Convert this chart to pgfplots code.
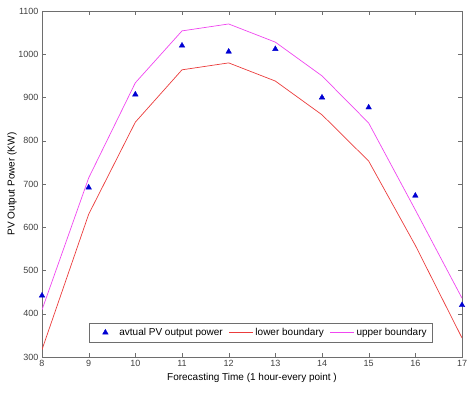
\documentclass[border=0pt]{standalone}
\usepackage{pgfplots}
\pgfplotsset{compat=1.18}
\usepackage{fontspec}
\setmainfont{Liberation Sans}
\definecolor{axgray}{RGB}{110,110,110}
\definecolor{lowred}{RGB}{235,60,60}
\definecolor{upmag}{RGB}{240,70,240}
\definecolor{ptblue}{RGB}{0,0,210}
\pgfplotsset{
  lineleg/.style={legend image code/.code={\draw[##1] (0pt,0pt) -- (24pt,0pt);}},
  markleg/.style={legend image code/.code={\path[draw=none,fill=none] (0pt,-1pt) rectangle (24pt,1pt); \draw[##1] plot coordinates {(12pt,0pt)};}},
}
\begin{document}
\begin{tikzpicture}
\begin{axis}[
  name=ax,
  scale only axis,
  width=420pt, height=346pt,
  xmin=8, xmax=17, ymin=300, ymax=1100,
  xtick={8,...,17}, ytick={300,400,...,1100},
  tick align=inside,
  axis line style={axgray},
  tick style={axgray},
  major tick length=4pt,
  tick label style={font=\fontsize{9}{10}\selectfont, text=black!75},
  /pgf/number format/assume math mode=true,
  /pgf/number format/1000 sep={},
  xlabel={Forecasting Time (1 hour-every point )},
  ylabel={PV Output Power (KW)},
  label style={font=\fontsize{10}{12}\selectfont, text=black!75},
  every axis x label/.style={at={(axis description cs:0.5,0)}, anchor=center, yshift=-21pt},
  every axis y label/.style={at={(axis description cs:0,0.5)}, rotate=90, anchor=center, yshift=30pt},
  legend columns=3,
  legend style={at={(0.5,0.043)}, anchor=south, xshift=9pt, draw=axgray, font=\fontsize{10}{12}\selectfont,
    inner ysep=3pt, inner xsep=4pt,
    /tikz/every even column/.append style={column sep=4pt}},
  legend cell align=left,
]
\addplot[only marks, mark=triangle*, mark size=3.2pt, color=ptblue, markleg] coordinates {
(8,442) (9,692) (10,907) (11,1020) (12,1006) (13,1012) (14,900) (15,877) (16,673) (17,420)};
\addlegendentry{avtual PV output power}
\addplot[lowred, line width=0.7pt, lineleg] coordinates {
(8,317) (9,630) (10,843) (11,964) (12,980) (13,938) (14,860) (15,753) (16,558) (17,344)};
\addlegendentry{lower boundary}
\addplot[upmag, line width=0.7pt, lineleg] coordinates {
(8,409) (9,714) (10,934) (11,1054) (12,1070) (13,1028) (14,950) (15,841) (16,640) (17,436)};
\addlegendentry{upper boundary}
\end{axis}
\pgfresetboundingbox
\path ([shift={(-42pt,-35pt)}]ax.south west) rectangle ([shift={(12pt,11pt)}]ax.north east);
\end{tikzpicture}
\end{document}
